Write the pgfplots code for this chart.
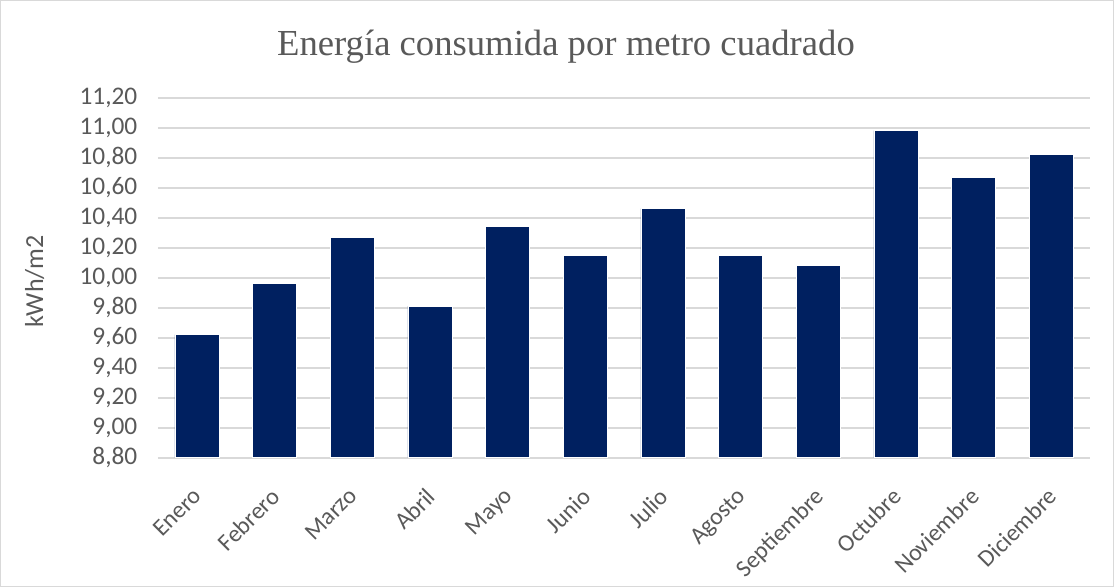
\documentclass[border=0pt]{standalone}
\usepackage{pgfplots}
\pgfplotsset{compat=1.18}
\usepackage{fontspec}
\setmainfont{Carlito}
\newfontfamily\titlefont{Liberation Serif}
\definecolor{barblue}{HTML}{002060}
\definecolor{gridgray}{HTML}{D9D9D9}
\definecolor{textgray}{HTML}{595959}
\begin{document}
\begin{tikzpicture}
\draw[gridgray, line width=0.75pt] (0.4pt,0.4pt) rectangle (835.1pt,439.85pt);
\begin{axis}[
    at={(118.5pt,97pt)}, anchor=south west,
    scale only axis,
    width=699pt, height=270pt,
    ybar, bar width=33pt,
    xmin=-0.5, xmax=11.5,
    ymin=8.8, ymax=11.2,
    xtick=data,
    xticklabels={Enero,Febrero,Marzo,Abril,Mayo,Junio,Julio,Agosto,Septiembre,Octubre,Noviembre,Diciembre},
    ytick={8.8,9.0,9.2,9.4,9.6,9.8,10.0,10.2,10.4,10.6,10.8,11.0,11.2},
    /pgf/number format/fixed,
    /pgf/number format/fixed zerofill,
    /pgf/number format/precision=2,
    /pgf/number format/use comma,
    /pgf/number format/assume math mode=true,
    major tick length=0pt,
    axis line style={draw=none},
    ymajorgrids, grid style={gridgray, line width=1.5pt},
    tick label style={font=\fontsize{19}{22}\selectfont, text=textgray},
    yticklabel style={xshift=-12pt},
    x tick label style={font=\fontsize{18}{21}\selectfont, rotate=45, anchor=north east, yshift=-9.3pt, xshift=-14.4pt},
    clip=false,
]
\addplot[fill=barblue, draw=white, line width=0.4pt] coordinates {
    (0, 9.62) (1, 9.96) (2, 10.27) (3, 9.81) (4, 10.34) (5, 10.15)
    (6, 10.46) (7, 10.15) (8, 10.08) (9, 10.98) (10, 10.67) (11, 10.82)
};
\end{axis}
\node[text=textgray, font=\titlefont\fontsize{27.5}{32}\selectfont] at (424.5pt,405pt) {Energía consumida por metro cuadrado};
\node[text=textgray, rotate=90, font=\fontsize{19.5}{22}\selectfont] at (26pt,229pt) {kWh/m2};
\end{tikzpicture}
\end{document}
